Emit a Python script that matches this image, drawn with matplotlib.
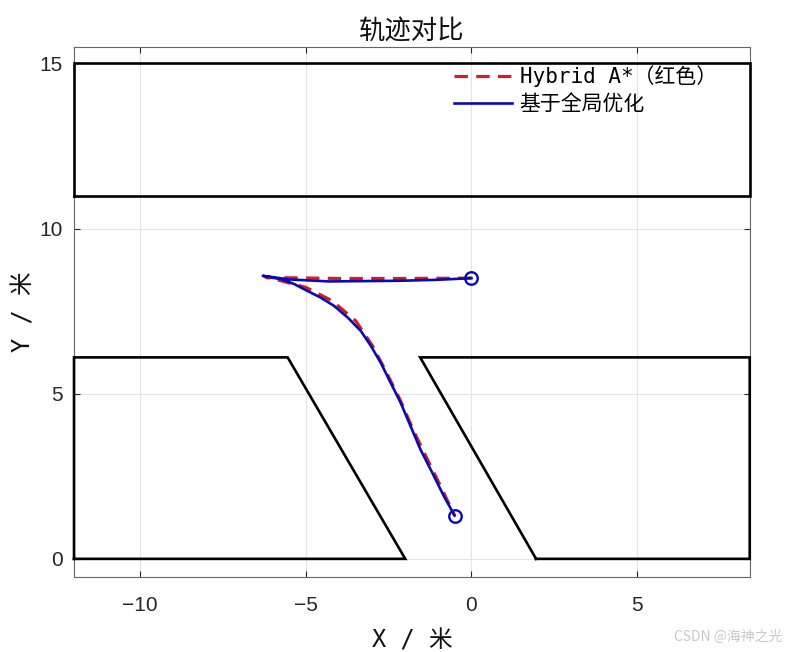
import matplotlib
matplotlib.use("Agg")
import matplotlib.pyplot as plt

plt.rcParams['font.family'] = ['Noto Sans CJK SC', 'DejaVu Sans']
MONO = ['DejaVu Sans Mono', 'Noto Sans CJK SC']

# Obstacles (polygons)
top_obs_x = [-12, 8.4, 8.4, -12, -12]
top_obs_y = [11, 11, 15, 15, 11]
left_obs_x = [-12, -2.0, -5.55, -12, -12]
left_obs_y = [0, 0, 6.1, 6.1, 0]
right_obs_x = [1.95, 8.4, 8.4, -1.55, 1.95]
right_obs_y = [0, 0, 6.1, 6.1, 0]

# Hybrid A* path (red dashed)
hyb_x = [0.0, -2.0, -4.0, -6.2, -6.05, -5.0, -4.2, -3.49, -2.99, -2.59, -2.14, -1.74, -1.33, -0.93, -0.51]
hyb_y = [8.50, 8.49, 8.49, 8.52, 8.50, 8.22, 7.81, 7.20, 6.45, 5.69, 4.78, 3.86, 3.01, 2.19, 1.31]

# Global-optimized path (blue solid)
opt_x = [0.0, -1.0, -2.18, -4.3, -5.5, -6.30, -5.75, -5.35, -4.95, -4.55, -4.15, -3.74, -3.34,
         -3.04, -2.74, -2.49, -2.14, -1.84, -1.54, -1.18, -0.83, -0.58, -0.51]
opt_y = [8.50, 8.45, 8.42, 8.40, 8.46, 8.57, 8.47, 8.32, 8.11, 7.91, 7.66, 7.31, 6.90,
         6.45, 5.94, 5.43, 4.73, 4.02, 3.31, 2.60, 1.89, 1.44, 1.31]

xticks = [-10, -5, 0, 5]
yticks = [0, 5, 10, 15]

fig = plt.figure(figsize=(7.9, 6.52), dpi=100)
ax = fig.add_axes([0.0937, 0.115, 0.949 - 0.0937, 0.928 - 0.115])

for ox, oy in [(top_obs_x, top_obs_y), (left_obs_x, left_obs_y), (right_obs_x, right_obs_y)]:
    ax.plot(ox, oy, color='black', lw=1.9, solid_joinstyle='miter', zorder=3, clip_on=False)

ax.plot(hyb_x, hyb_y, color='#D01E28', lw=2.3, dashes=(4.2, 2.6), label='Hybrid A*（红色）', zorder=4)
ax.plot(opt_x, opt_y, color='#0A0AB4', lw=1.9, label='基于全局优化', zorder=5)
ax.plot([opt_x[0], opt_x[-1]], [opt_y[0], opt_y[-1]], 'o', mfc='none', mec='#0A0AB4', ms=9, mew=1.7, zorder=6)

ax.set_xlim(-12.0, 8.4)
ax.set_ylim(-0.55, 15.5)
ax.set_xticks(xticks)
ax.set_yticks(yticks)
ax.tick_params(direction='in', length=4, labelsize=15, colors='#262626', top=True, right=True, pad=8)
ax.tick_params(axis='x', pad=13.5)
for lab in ax.get_xticklabels() + ax.get_yticklabels():
    lab.set_family(['Liberation Sans', 'DejaVu Sans'])
ax.grid(True, color='#e3e3e3', lw=0.8)
ax.set_axisbelow(True)
for s in ax.spines.values():
    s.set_color('#666666')
    s.set_linewidth(0.8)

ax.set_title('轨迹对比', fontsize=19, pad=5, color='#111111')
ax.set_xlabel('X / 米', fontsize=17, labelpad=10, family=MONO, color='#111111')
ax.set_ylabel('Y / 米', fontsize=17, labelpad=3, family=MONO, color='#111111')

leg = ax.legend(loc='upper right', bbox_to_anchor=(0.973, 0.993), frameon=False,
                prop={'family': MONO, 'size': 15},
                handlelength=2.8, handletextpad=0.35, labelspacing=0.35, borderaxespad=0.3)

fig.text(0.99, 0.012, 'CSDN @海神之光', fontsize=10, color='#c8c8c8', ha='right', va='bottom')

fig.savefig('out.png', dpi=100)
